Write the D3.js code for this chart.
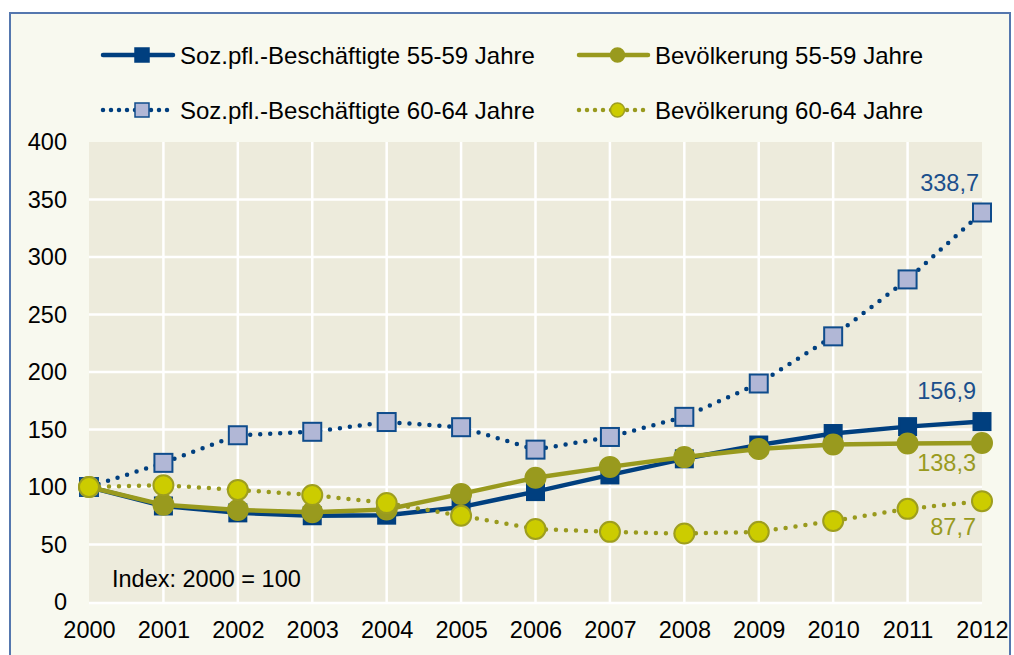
<!DOCTYPE html>
<html><head><meta charset="utf-8">
<script src="https://cdn.jsdelivr.net/npm/d3@7"></script>
<style>
html,body{margin:0;padding:0;background:#fff;}
svg{display:block;font-family:"Liberation Sans",Arial,sans-serif;}
</style></head><body>
<svg id="c" width="1014" height="655"></svg>
<script>
const years = [2000,2001,2002,2003,2004,2005,2006,2007,2008,2009,2010,2011,2012];
const yTicks = [0,50,100,150,200,250,300,350,400];
const soz5559 = [100,83.5,77.5,75,75.5,82.5,96,110.5,124.5,136.5,146.5,152.5,156.9];
const bev5559 = [100,84.5,80,78,80.5,94,108,117.5,126,133,137,137.8,138.3];
const soz6064 = [100,121,145,148,156.5,152,132.5,143.5,161,190,231,280.5,338.7];
const bev6064 = [100,101.5,97.5,93,86,75,63.5,61,59.5,61,70.5,81,87.7];
const seriesNames = ["Soz.pfl.-Beschäftigte 55-59 Jahre","Bevölkerung 55-59 Jahre","Soz.pfl.-Beschäftigte 60-64 Jahre","Bevölkerung 60-64 Jahre"];
const endLabels = ["156,9","138,3","338,7","87,7"];
const FONT = "Liberation Sans, Arial, sans-serif";

const svg = d3.select("#c");
// outer panel
svg.append("rect").attr("x",10).attr("y",13).attr("width",1000).attr("height",660)
  .attr("fill","#f8f9ef").attr("stroke","#5577ae").attr("stroke-width",2);

const x = d3.scalePoint().domain(years).range([89,982]);
const y = d3.scaleLinear().domain([0,400]).range([602,142]);

// plot bg
svg.append("rect").attr("x",x(2000)).attr("y",y(400)).attr("width",x(2012)-x(2000)).attr("height",y(0)-y(400)).attr("fill","#edebdc");
// grid
const g = svg.append("g");
g.selectAll("line.h").data(yTicks.filter(d=>d>0 && d<400)).join("line")
 .attr("x1",x(2000)).attr("x2",x(2012)).attr("y1",d=>y(d)).attr("y2",d=>y(d))
 .attr("stroke","#fff").attr("stroke-width",2.5);
g.append("line").attr("x1",x(2000)).attr("x2",x(2012)).attr("y1",y(0)+1).attr("y2",y(0)+1).attr("stroke","#fff").attr("stroke-width",2.5);
g.selectAll("line.v").data(years.slice(1,-1)).join("line")
 .attr("y1",y(400)).attr("y2",y(0)+2).attr("x1",d=>x(d)).attr("x2",d=>x(d))
 .attr("stroke","#fff").attr("stroke-width",2.5);

// axes (text only)
const yAxis = d3.axisLeft(y).tickValues(yTicks).tickSize(0).tickPadding(0);
const ya = svg.append("g").attr("transform","translate(67,0)").call(yAxis);
ya.select(".domain").remove();
ya.selectAll("text").attr("font-size",23.5).attr("fill","#000").attr("font-family",FONT);
const xAxis = d3.axisBottom(x).tickValues(years).tickFormat(d3.format("d")).tickSize(0).tickPadding(0);
const xa = svg.append("g").attr("transform","translate(0,621)").call(xAxis);
xa.select(".domain").remove();
xa.selectAll("text").attr("font-size",23.5).attr("fill","#000").attr("font-family",FONT);

const styles = [
 {data:soz5559, line:"#003f7f", dash:null, width:4.5, shape:"sq", fill:"#003f7f", stroke:"#003f7f", size:17},
 {data:bev5559, line:"#999a1e", dash:null, width:4.5, shape:"ci", fill:"#999a1e", stroke:"#999a1e", size:10},
 {data:soz6064, line:"#003f7f", dash:"0 10", width:4.5, shape:"sq", fill:"#b1b7d6", stroke:"#0f4c8c", size:18},
 {data:bev6064, line:"#999a1e", dash:"0 10", width:4.5, shape:"ci", fill:"#cccc00", stroke:"#9e9e1e", size:10}
];
const lineGen = d3.line().x((d,i)=>x(years[i])).y(d=>y(d));
styles.forEach(s=>{
  const gg = svg.append("g");
  const p = gg.append("path").attr("d",lineGen(s.data)).attr("fill","none").attr("stroke",s.line)
    .attr("stroke-width",s.width).attr("stroke-linecap","round").attr("stroke-linejoin","round");
  if(s.dash) p.attr("stroke-dasharray",s.dash);
  if(s.shape==="sq"){
    gg.selectAll("rect").data(s.data).join("rect")
      .attr("x",(d,i)=>x(years[i])-s.size/2).attr("y",d=>y(d)-s.size/2)
      .attr("width",s.size).attr("height",s.size)
      .attr("fill",s.fill).attr("stroke",s.stroke).attr("stroke-width",2);
  } else {
    gg.selectAll("circle").data(s.data).join("circle")
      .attr("cx",(d,i)=>x(years[i])).attr("cy",d=>y(d)).attr("r",s.size)
      .attr("fill",s.fill).attr("stroke",s.stroke).attr("stroke-width",2);
  }
});

// end labels
const lab = [
 {t:endLabels[2], v:soz6064[12], dy:-29, c:"#1b4f8c", dx:-3},
 {t:endLabels[0], v:soz5559[12], dy:-31, c:"#1b4f8c", dx:-6},
 {t:endLabels[1], v:bev5559[12], dy:20, c:"#999a1e", dx:-6},
 {t:endLabels[3], v:bev6064[12], dy:26, c:"#999a1e", dx:-6}
];
svg.selectAll("text.end").data(lab).join("text").attr("class","end")
 .attr("x",d=>x(2012)+d.dx).attr("y",d=>y(d.v)+d.dy).attr("text-anchor","end").attr("dominant-baseline","central")
 .attr("font-size",23.5).attr("fill",d=>d.c).text(d=>d.t);

svg.append("text").attr("x",112).attr("y",579).attr("dominant-baseline","central").attr("font-size",23.5).attr("fill","#000").text("Index: 2000 = 100");

// legend
const leg = [
 {s:styles[0], x0:103, x1:173, tx:180, yy:55},
 {s:styles[1], x0:579, x1:648, tx:655, yy:55},
 {s:styles[2], x0:103, x1:173, tx:180, yy:110},
 {s:styles[3], x0:579, x1:648, tx:655, yy:110}
];
leg.forEach((l,i)=>{
  const s=l.s; const cx=(l.x0+l.x1)/2+4;
  const ln = svg.append("line").attr("x1",l.x0).attr("x2",l.x1).attr("y1",l.yy).attr("y2",l.yy)
   .attr("stroke",s.line).attr("stroke-width",s.width).attr("stroke-linecap","round");
  if(s.dash) ln.attr("stroke-dasharray","0 8");
  if(s.shape==="sq"){
    const sz = 14;
    svg.append("rect").attr("x",cx-sz/2).attr("y",l.yy-sz/2).attr("width",sz).attr("height",sz)
     .attr("fill",s.fill).attr("stroke",s.stroke).attr("stroke-width",1.5);
  } else {
    svg.append("circle").attr("cx",cx).attr("cy",l.yy).attr("r",7).attr("fill",s.fill).attr("stroke",s.stroke).attr("stroke-width",1.5);
  }
  svg.append("text").attr("x",l.tx).attr("y",l.yy).attr("dominant-baseline","central").attr("font-size",24).attr("fill","#000").text(seriesNames[i]);
});
</script></body></html>
